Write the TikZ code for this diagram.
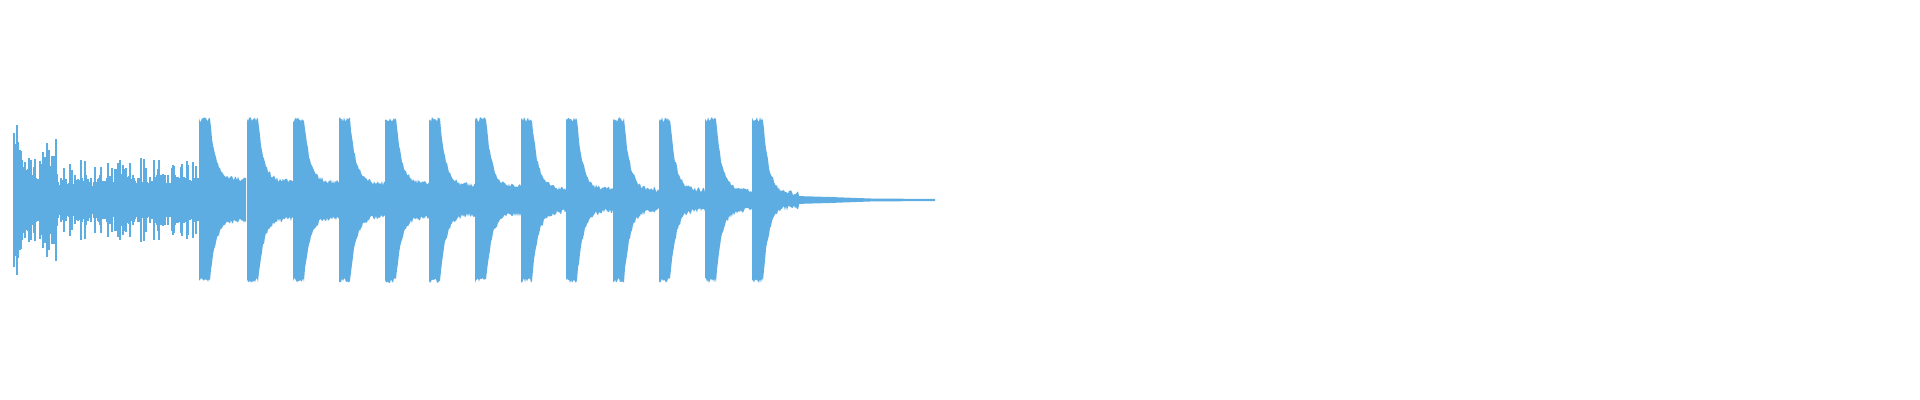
\documentclass[tikz,border=0pt]{standalone}
\usepackage{tikz}
\definecolor{wavecol}{HTML}{5DACE2}
\tikzset{wave/.style={fill=wavecol,draw=none}}
\tikzset{spike/.style={wavecol,line width=0.6pt}}
\begin{document}
\begin{tikzpicture}[x=0.5pt,y=0.5pt,
    declare function={env(\d,\t)=(\d<11)*78+(\d>=11)*(\t+(78-\t)*exp(-(\d-11)/6));}]
  \useasboundingbox (0,0) rectangle (1920,400);
  \pgfmathsetseed{7}
  % noisy opening part
  \foreach \i in {14,...,198}{
    \pgfmathsetmacro\a{(\i<23 ? 72 : (\i<30 ? 42 : ((\i>=42 && \i<58) ? 50 : 26)))*(0.5+0.5*rnd)+(rnd>0.8 ? 16 : 0)}
    \draw[spike] (\i,200-\a) -- (\i,200+\a);
  }
  % the bursts, tail level in the second entry
  \foreach \s/\t in {199/18,247/16,293/15,339/14,385/14,429/12,475/11,521/9,566/8,613/8,659/7,705/7,752/4}{
    \fill[wave] plot[domain=0:47,samples=48] ({\s+\x},{200+env(\x,\t)+rnd*5})
      -- plot[domain=47:0,samples=48] ({\s+\x},{200-env(\x,\t)-rnd*5}) -- cycle;
  }
  % fading tail
  \fill[wave] (795,204) -- (830,203) -- (870,201.5) -- (935,201) -- (935,199)
    -- (870,198.5) -- (830,197) -- (795,196) -- cycle;
\end{tikzpicture}
\end{document}
